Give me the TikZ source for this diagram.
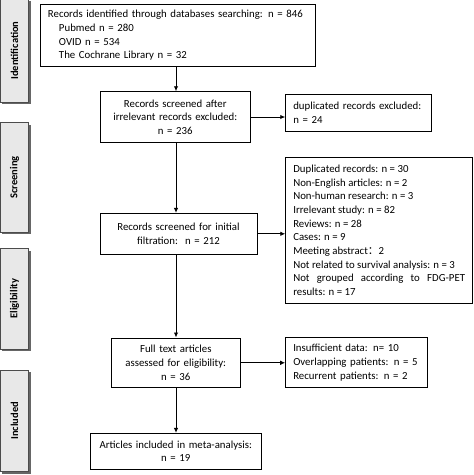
\documentclass[tikz,border=0pt]{standalone}
\usepackage{fontspec}
\setmainfont{Carlito}
\newfontfamily\cjk{Noto Sans CJK SC}
\usetikzlibrary{arrows.meta,shadows}
\hyphenpenalty=10000
\exhyphenpenalty=10000
\begin{document}
\begin{tikzpicture}[x=1pt,y=-1pt,
  box/.style={draw=black,line width=0.9pt,fill=white,inner ysep=2pt,
    font=\fontsize{10.8}{13.7}\selectfont},
  sidebox/.style={draw=black!70,line width=0.8pt,fill=black!9,minimum width=28.5pt,
    drop shadow={shadow xshift=2.2pt,shadow yshift=-2.2pt,fill=black!60,opacity=1}},
  sidetext/.style={rotate=90,font=\fontsize{10.5}{12}\selectfont\bfseries},
  arr/.style={line width=0.9pt,-{Latex[length=5pt,width=4.5pt]}}]
\useasboundingbox (0,0) rectangle (474,475);
% side labels
\node[sidebox,minimum height=103pt] (s1) at (14.5,50.5) {};
\node[sidetext] (t1) at (s1) {Identification};
\node[sidebox,minimum height=109.3pt] (s2) at (14.5,177.35) {};
\node[sidetext] (t2) at (s2) {Screening};
\node[sidebox,minimum height=100.7pt] (s3) at (14.5,298.65) {};
\node[sidetext] (t3) at (s3) {Eligibility};
\node[sidebox,minimum height=101.7pt] (s4) at (14.5,420.85) {};
\node[sidetext] (t4) at (s4) {Included};
% main boxes
\node[box,inner xsep=7.3pt,text width=260pt,minimum height=62.4pt,align=left] (b1) at (178,35.5)
  {Records identified through databases searching: n = 846\\
   \hspace*{11pt}Pubmed n = 280\\
   \hspace*{11pt}OVID n = 534\\
   \hspace*{11pt}The Cochrane Library n = 32};
\node[box,inner xsep=5pt,text width=140.7pt,minimum height=50.6pt,align=center] (b2) at (175.3,117)
  {Records screened after\\ irrelevant records excluded:\\ n = 236};
\node[box,inner xsep=7.6pt,text width=130.4pt,minimum height=37pt,align=left] (e1) at (358.5,112.5)
  {duplicated records excluded:\\ n = 24};
\node[box,inner xsep=5pt,text width=147pt,minimum height=41pt,align=center] (b3) at (178.5,233.8)
  {Records screened for initial\\ filtration:\ \ n = 212};
\node[box,inner xsep=7.6pt,text width=171.8pt,minimum height=146pt,align=justify] (e2) at (379.2,230.3)
  {Duplicated records: n = 30\newline
   Non-English articles: n = 2\newline
   Non-human research: n = 3\newline
   Irrelevant study: n = 82\newline
   Reviews: n = 28\newline
   Cases: n = 9\newline
   Meeting abstract{\cjk ：}2\newline
   Not related to survival analysis: n = 3\newline
   Not grouped according to FDG-PET\linebreak
   results: n = 17};
\node[box,inner xsep=5pt,text width=119.7pt,minimum height=49.7pt,align=center] (b4) at (175.8,362.8)
  {Full text articles\\ assessed for eligibility:\\ n = 36};
\node[box,inner xsep=7.6pt,text width=126.1pt,minimum height=50pt,align=left] (e3) at (356.3,362.7)
  {Insufficient data: n= 10\\ Overlapping patients: n = 5\\ Recurrent patients: n = 2};
\node[box,inner xsep=5pt,text width=160.3pt,minimum height=36pt,align=center] (b5) at (175.8,451.3)
  {Articles included in meta-analysis:\\ n = 19};
% connectors
\coordinate (spine) at (176,0);
\draw[arr] (b1.south -| spine) -- (b2.north -| spine);
\draw[arr] (b2.south -| spine) -- (b3.north -| spine);
\draw[arr] (b3.south -| spine) -- (b4.north -| spine);
\draw[arr] (b4.south -| spine) -- (b5.north -| spine);
\draw[arr] (b2.east) -- (b2.east -| e1.west);
\draw[arr] (b3.east) -- (b3.east -| e2.west);
\draw[arr] (b4.east) -- (b4.east -| e3.west);
\end{tikzpicture}
\end{document}
